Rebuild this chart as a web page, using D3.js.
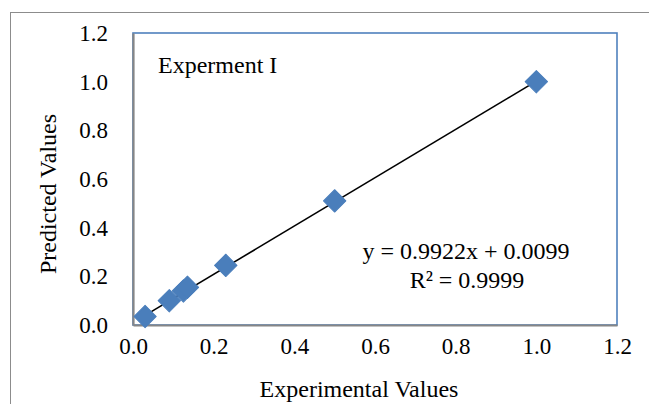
<!DOCTYPE html>
<html lang="en">
<head>
<meta charset="utf-8">
<title>Experment I</title>
<script src="https://d3js.org/d3.v7.min.js"></script>
<style>
  body { margin: 0; background: #fff; }
  text { font-family: "Liberation Serif", "Times New Roman", serif; fill: #000; }
</style>
</head>
<body>
<div id="chart"></div>
<script>
// values
var expValues  = [0.03, 0.09, 0.125, 0.135, 0.23, 0.50, 1.00];
var predValues = [0.035, 0.10, 0.14, 0.155, 0.245, 0.51, 1.00];
var xTicks = [0, 0.2, 0.4, 0.6, 0.8, 1.0, 1.2];
var yTicks = [0, 0.2, 0.4, 0.6, 0.8, 1.0, 1.2];
var slope = 0.9922, intercept = 0.0099;

var width = 649, height = 404;
var margin = {left: 133, top: 33, right: 32, bottom: 79};

var svg = d3.select('#chart').append('svg')
    .attr('width', width)
    .attr('height', height);

// outer chart frame
svg.append('rect')
    .attr('x', 10.5).attr('y', 12.5)
    .attr('width', 700).attr('height', 500)
    .attr('fill', 'none')
    .attr('stroke', '#8c8c8c')
    .attr('stroke-width', 1);

var x = d3.scaleLinear().domain([0, 1.2]).range([margin.left, width - margin.right]);
var y = d3.scaleLinear().domain([0, 1.2]).range([height - margin.bottom, margin.top]);

// plot area border (blue)
svg.append('rect')
    .attr('x', x(0)).attr('y', y(1.2))
    .attr('width', x(1.2) - x(0)).attr('height', y(0) - y(1.2))
    .attr('fill', 'none')
    .attr('stroke', '#4f81bd')
    .attr('stroke-width', 1.6);

var xAxis = svg.append('g')
    .attr('transform', 'translate(0,' + y(0) + ')')
    .call(d3.axisBottom(x).tickValues(xTicks).tickFormat(d3.format('.1f')).tickSize(0).tickPadding(13));
var yAxis = svg.append('g')
    .attr('transform', 'translate(' + x(0) + ',0)')
    .call(d3.axisLeft(y).tickValues(yTicks).tickFormat(d3.format('.1f')).tickSize(0).tickPadding(25));

[xAxis, yAxis].forEach(function(g) {
    g.select('.domain').attr('stroke', '#868686').attr('stroke-width', 2.2);
    g.selectAll('text')
        .style('font-family', '"Liberation Serif", serif')
        .style('font-size', '23px')
        .style('fill', '#000');
});

// trendline
var xMin = d3.min(expValues), xMax = d3.max(expValues);
svg.append('line')
    .attr('x1', x(xMin)).attr('y1', y(slope * xMin + intercept))
    .attr('x2', x(xMax)).attr('y2', y(slope * xMax + intercept))
    .attr('stroke', '#000')
    .attr('stroke-width', 1.6);

// markers
var sym = d3.symbol().type(d3.symbolSquare).size(250);
svg.selectAll('path.pt')
    .data(expValues)
    .enter()
    .append('path')
    .attr('class', 'pt')
    .attr('d', sym)
    .attr('transform', function(d, i) {
        return 'translate(' + x(d) + ',' + y(predValues[i]) + ') rotate(45)';
    })
    .attr('fill', '#4a7ebb')
    .attr('stroke', '#4a7ebb')
    .attr('stroke-width', 1)
    .attr('stroke-linejoin', 'round');

// labels
svg.append('text')
    .attr('x', 158).attr('y', 73)
    .attr('font-size', 24)
    .text('Experment I');

svg.append('text')
    .attr('x', 466).attr('y', 259)
    .attr('text-anchor', 'middle')
    .attr('font-size', 24)
    .text('y = 0.9922x + 0.0099');
svg.append('text')
    .attr('x', 467).attr('y', 288)
    .attr('text-anchor', 'middle')
    .attr('font-size', 24)
    .text('R² = 0.9999');

svg.append('text')
    .attr('x', (x(0) + x(1.2)) / 2 - 16).attr('y', 397)
    .attr('text-anchor', 'middle')
    .attr('font-size', 24)
    .text('Experimental Values');

svg.append('text')
    .attr('transform', 'translate(56,' + ((y(0) + y(1.2)) / 2 + 15) + ') rotate(-90)')
    .attr('text-anchor', 'middle')
    .attr('font-size', 24)
    .text('Predicted Values');
</script>
</body>
</html>
